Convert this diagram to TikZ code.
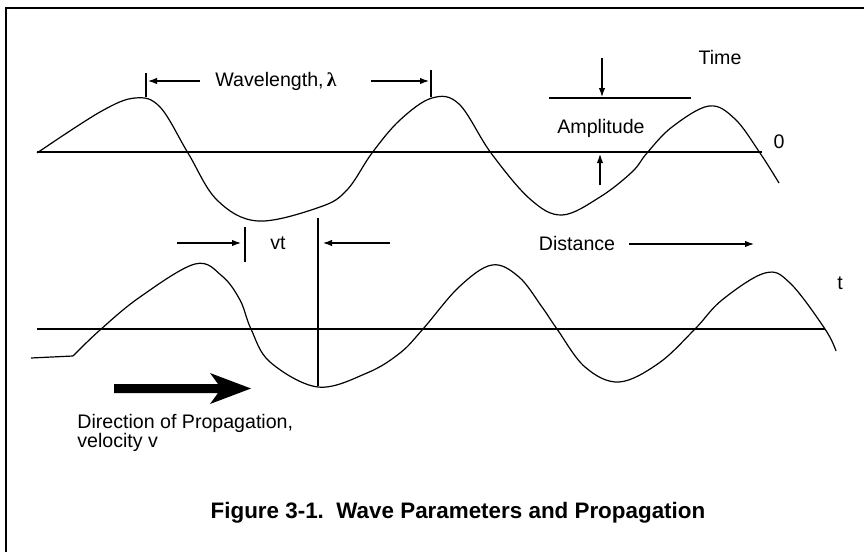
\documentclass[tikz,border=0pt]{standalone}
\usepackage{fontspec}
\setmainfont{Liberation Sans}
\newfontfamily\lamfont{Liberation Serif}
\usetikzlibrary{arrows.meta,positioning}

\begin{document}
\begin{tikzpicture}[x=0.5pt, y=-0.5pt,
  wave/.style={line width=0.6pt, line join=round},
  axis/.style={line width=0.6pt},
  tick/.style={line width=0.6pt},
  arr/.style={-{Latex[length=4.5pt,width=3.2pt]}, line width=0.55pt},
  lbl/.style={font=\fontsize{9.8}{9.5}\selectfont, inner sep=0pt},
  every node/.style={align=left}
]
  \useasboundingbox (0,0) rectangle (864,552);
  \draw[line width=0.6pt] (6,552) -- (6,8) -- (864,8);

  % axes
  \draw[axis] (37,152) -- (762,152);
  \draw[axis] (37,329) -- (825,329);

  % time 0 wave
  \draw[wave] plot[smooth, tension=0.6] coordinates {
    (37,153) (100,112) (135,98) (160,107) (188,153) (217,200) (258,221)
    (320,207) (347,190) (372,153) (400,120) (432,98) (459,104) (491,153)
    (530,199) (562,215) (600,197) (632,172) (647,153) (672,127) (709,106)
    (735,119) (760,153) (779,183)};

  % time t wave
  \draw[wave] (31,358) -- (73,356);
  \draw[wave] plot[smooth, tension=0.6] coordinates {
    (73,356) (100,330) (140,297) (195,264) (222,276) (240,300) (251,329)
    (270,362) (318,387) (367,373) (400,353) (423,329) (459,287) (492,265)
    (519,277) (542,307) (557,329) (585,367) (619,382) (659,363) (695,329)
    (722,300) (765,273) (790,283) (825,329) (836,351)};

  % wavelength
  \node[lbl] (wavelen) at (276,81) {Wavelength,\,{\lamfont\bfseries λ}};
  \coordinate (wlL) at (200,81);
  \coordinate (wlLend) at (148,81);
  \coordinate (wlR) at (371,81);
  \coordinate (wlRend) at (429,81);
  \draw[tick] (146,73) -- (146,97);
  \draw[tick] (431,70) -- (431,97);
  \draw[arr] (wlL) -- (wlLend);
  \draw[arr] (wlR) -- (wlRend);

  % amplitude
  \node[lbl] (time) at (720,57) {Time};
  \node[lbl] (ampl) at (601,128) {Amplitude};
  \node[lbl] (zero) at (779,142) {0};
  \draw[tick] (549,98) -- (691,98);
  \coordinate (amTop) at (602,58);
  \coordinate (amTopEnd) at (602,97);
  \coordinate (amBot) at (600,185);
  \coordinate (amBotEnd) at (600,154);
  \draw[arr] (amTop) -- (amTopEnd);
  \draw[arr] (amBot) -- (amBotEnd);

  % vt
  \node[lbl] (vt) at (278,243) {vt};
  \draw[tick] (245,227) -- (245,262);
  \draw[tick] (318,218) -- (318,386);
  \coordinate (vtL) at (177,243);
  \coordinate (vtLend) at (241,243);
  \coordinate (vtR) at (390,243);
  \coordinate (vtRend) at (323,243);
  \draw[arr] (vtL) -- (vtLend);
  \draw[arr] (vtR) -- (vtRend);

  % distance
  \node[lbl] (dist) at (577,243) {Distance};
  \coordinate (dsA) at (629,244);
  \coordinate (dsB) at (754,244);
  \draw[arr] (dsA) -- (dsB);
  \node[lbl] (tlbl) at (840,283) {t};

  % propagation
  \fill (114,384) -- (218,384) -- (210,373) -- (251,388.5) -- (210,404)
    -- (218,393) -- (114,393) -- cycle;
  \node[lbl, anchor=north west] (prop) at (77,414)
    {Direction of Propagation,\\velocity v};

  \node[lbl, font=\fontsize{11.2}{13}\selectfont\bfseries] (caption) at (458,513)
    {Figure 3-1.\ \ Wave Parameters and Propagation};
\end{tikzpicture}
\end{document}
